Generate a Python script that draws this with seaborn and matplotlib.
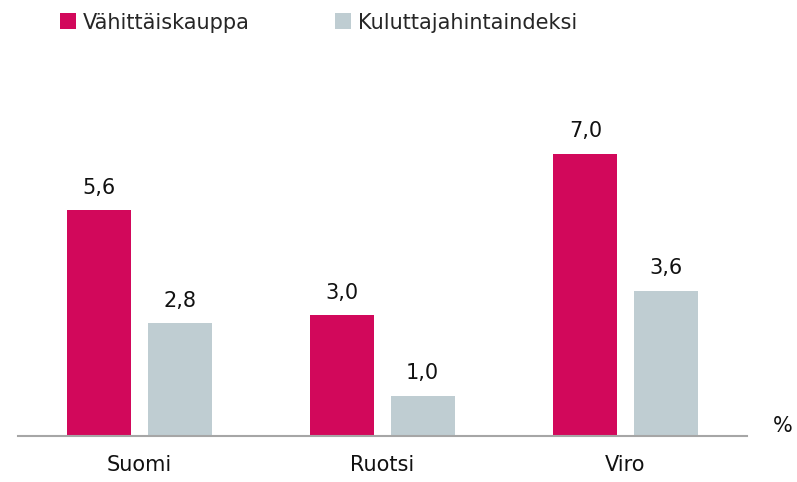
import pandas as pd
import numpy as np
import matplotlib
matplotlib.use("Agg")
import matplotlib.pyplot as plt
import seaborn as sns

maat = ["Suomi", "Ruotsi", "Viro"]
sarjat = ["Vähittäiskauppa", "Kuluttajahintaindeksi"]
vahittais = [5.6, 3.0, 7.0]
kuluttaja = [2.8, 1.0, 3.6]

df = pd.DataFrame({
    "maa": maat * 2,
    "sarja": [sarjat[0]] * 3 + [sarjat[1]] * 3,
    "arvo": vahittais + kuluttaja,
})

sns.set_style("white")
plt.rcParams['font.family'] = ['DejaVu Sans']

fig = plt.figure(figsize=(7.97, 4.82), dpi=100)
ax = fig.add_axes([18/797, 46/482, 729/797, 436/482])

sns.barplot(data=df, x="maa", y="arvo", hue="sarja", order=maat, hue_order=sarjat,
            palette=["#D2085B", "#BFCDD2"], width=0.66, gap=0.2,
            saturation=1, linewidth=0, ax=ax)

for c in ax.containers:
    ax.bar_label(c, labels=[("%.1f" % v).replace(".", ",") for v in c.datavalues],
                 padding=9, fontsize=15, color="#111111")

ax.set_xlim(-0.5, 2.5)
ax.set_ylim(0, 10.82)
ax.set_yticks([])
ax.set_xlabel("")
ax.set_ylabel("")
for s in ["top", "right", "left"]:
    ax.spines[s].set_visible(False)
ax.spines["bottom"].set_color("#A6A6A6")
ax.spines["bottom"].set_linewidth(1.5)
ax.tick_params(axis="x", length=0, pad=14, labelsize=15, labelcolor="#111111")

h, l = ax.get_legend_handles_labels()
ax.legend_.remove()
fig.legend(h, l, loc="upper left", bbox_to_anchor=(47/797, 1.0), ncol=2, frameon=False,
           fontsize=15, handlelength=0.77, handleheight=0.77, handletextpad=0.35,
           columnspacing=4.1, borderaxespad=0.2)

fig.text(783/797, 1 - 426/482, "%", ha="center", va="center", fontsize=15, color="#111111")

plt.savefig("out.png", dpi=100)
